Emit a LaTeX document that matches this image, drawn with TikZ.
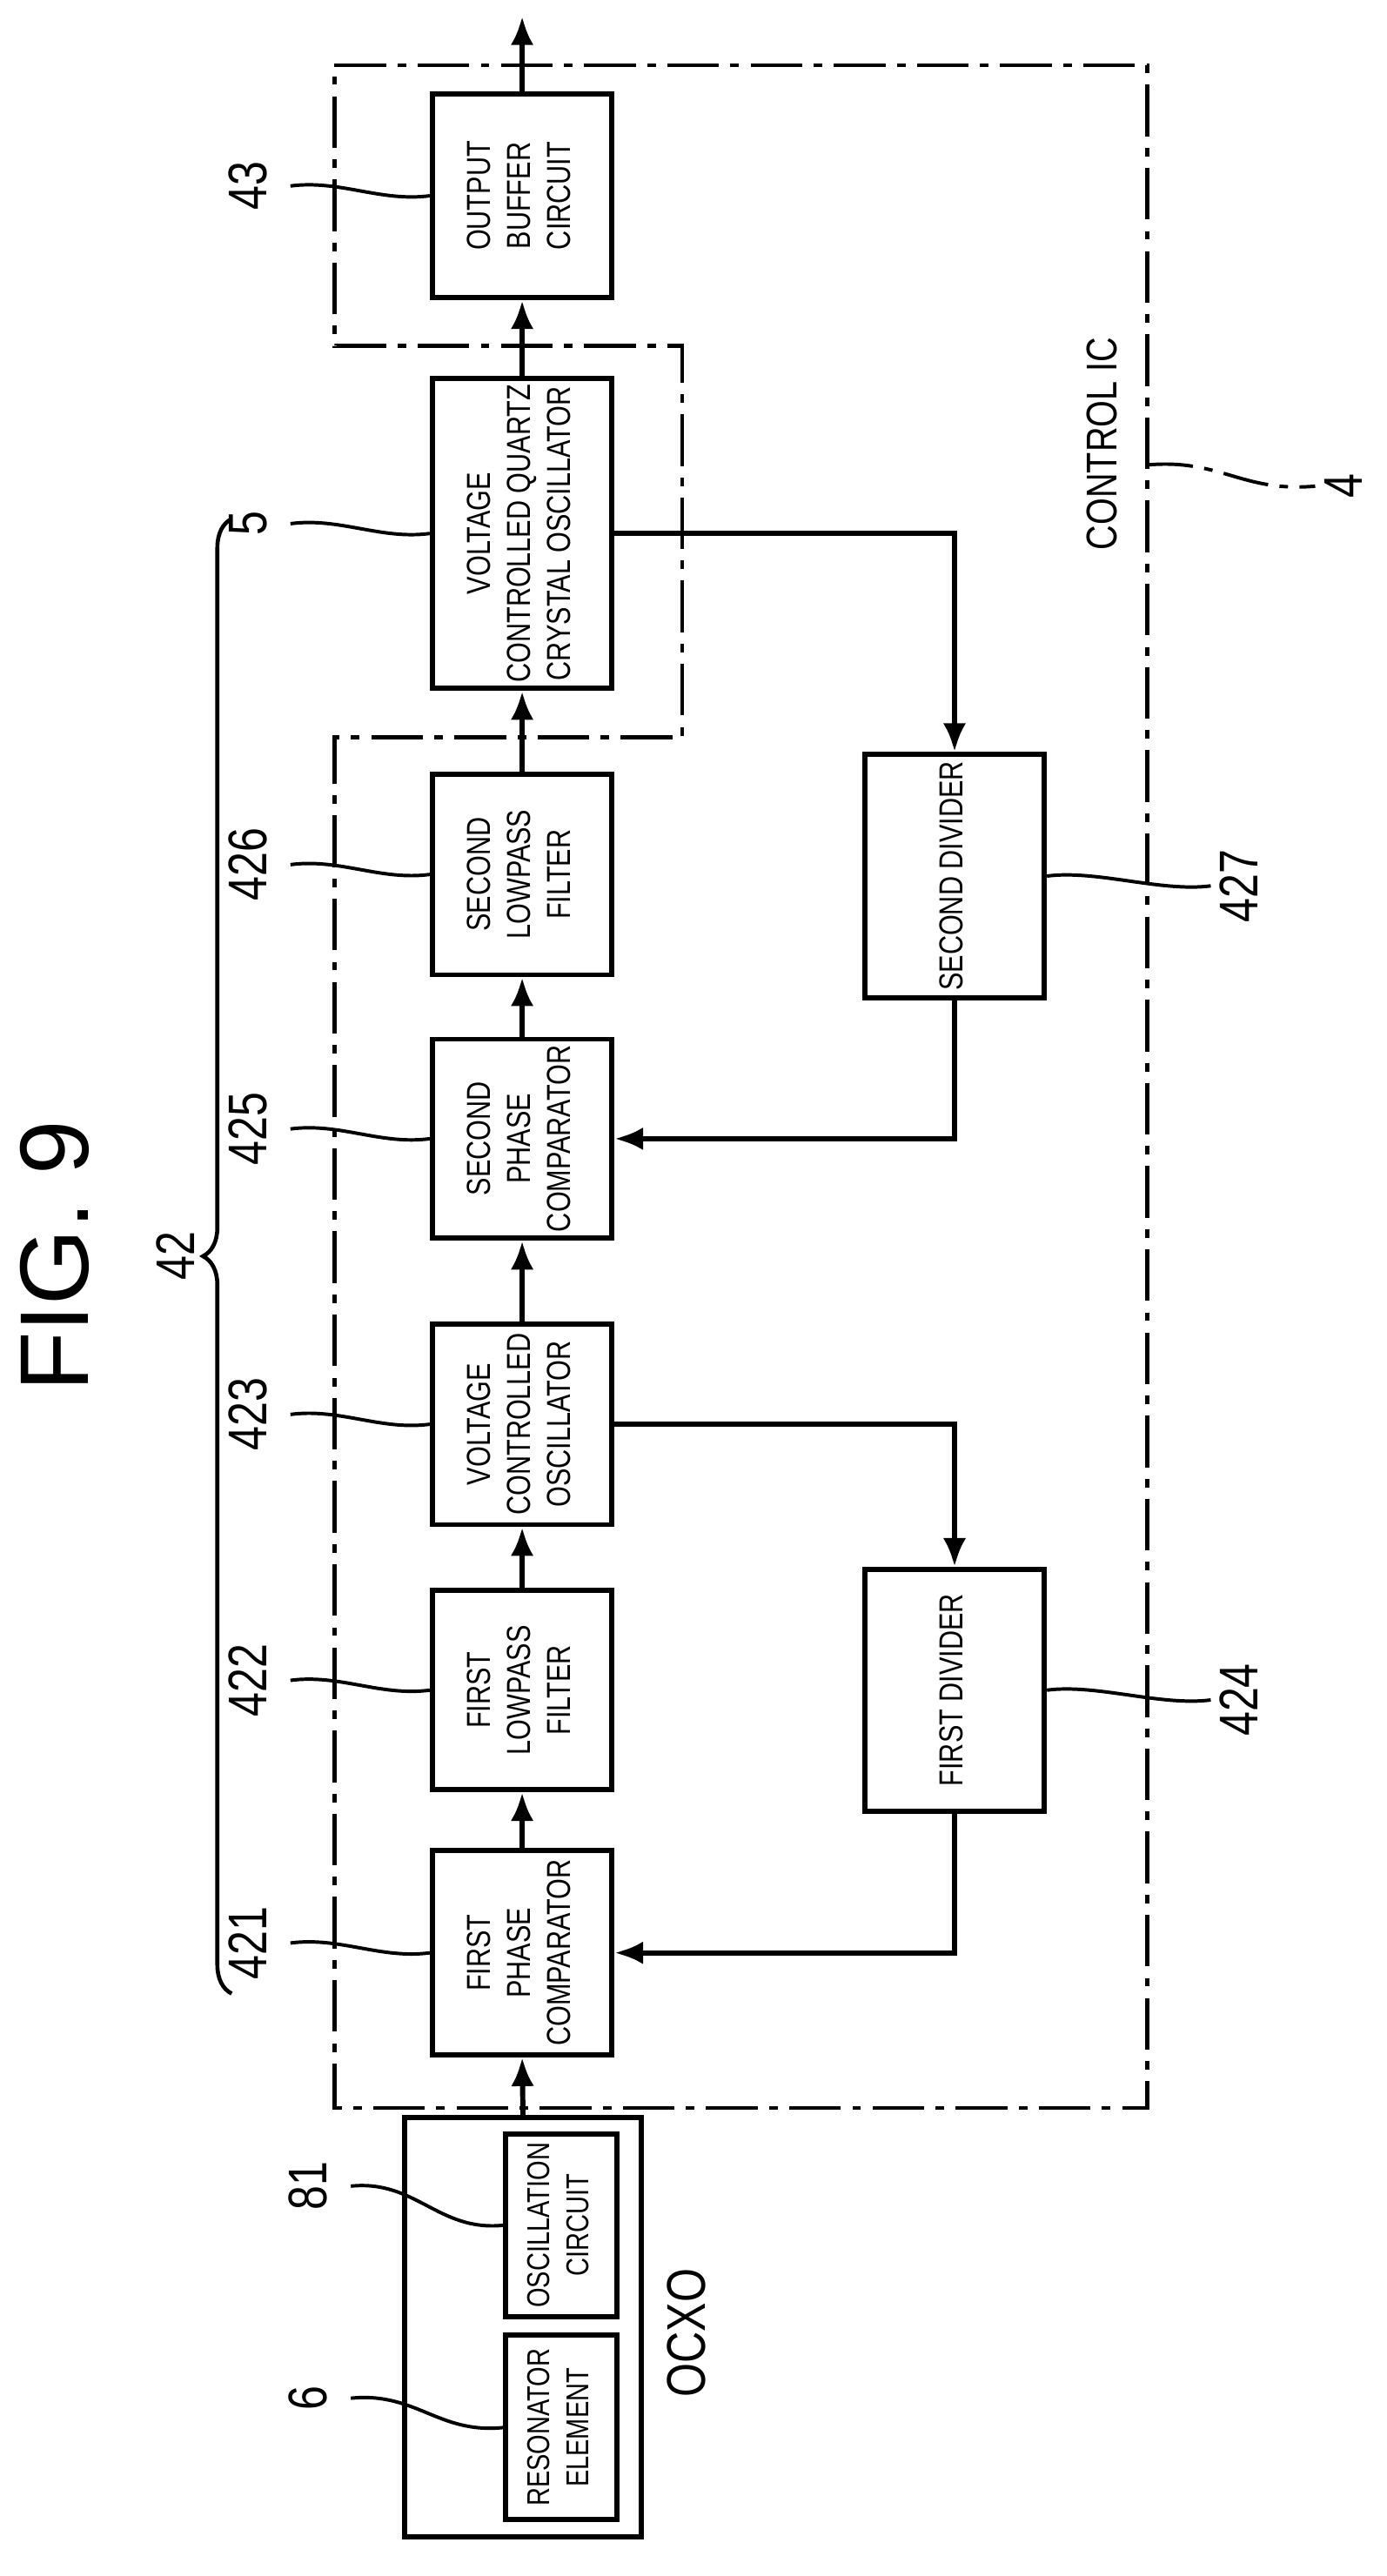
\documentclass[tikz,border=0pt]{standalone}
\usepackage{fontspec}
\setmainfont{Liberation Sans}
\newfontfamily\cond[FakeStretch=0.8]{Liberation Sans}
\usetikzlibrary{arrows.meta,positioning,calc,decorations.pathreplacing}
\newcommand{\vt}[1]{\rotatebox{90}{\begin{tabular}{@{}c@{}}#1\end{tabular}}}
\tikzset{
  blk/.style={draw,line width=0.9pt,minimum width=1.1cm,inner sep=0pt,font=\cond\fontsize{5.8}{7}\selectfont},
  num/.style={inner sep=1pt,font=\cond\fontsize{9.5}{10}\selectfont},
  sig/.style={line width=0.9pt,-{Latex[length=5pt,width=4pt]}},
  lead/.style={line width=0.6pt},
  dd/.style={line width=0.7pt,dash pattern=on 9pt off 2pt on 1.5pt off 2pt}
}
\begin{document}
\begin{tikzpicture}[x=0.01cm,y=-0.01cm]
\useasboundingbox (0,0) rectangle (850,1579);
% blocks of the chain
\node[blk,minimum height=1.25cm] (b43)  at (320,120)  {\vt{OUTPUT\\BUFFER\\CIRCUIT}};
\node[blk,minimum height=1.9cm]  (b5)   at (320,327)  {\vt{VOLTAGE\\CONTROLLED QUARTZ\\CRYSTAL OSCILLATOR}};
\node[blk,minimum height=1.23cm] (b426) at (320,536)  {\vt{SECOND\\LOWPASS\\FILTER}};
\node[blk,minimum height=1.22cm] (b425) at (320,698)  {\vt{SECOND\\PHASE\\COMPARATOR}};
\node[blk,minimum height=1.23cm] (b423) at (320,873)  {\vt{VOLTAGE\\CONTROLLED\\OSCILLATOR}};
\node[blk,minimum height=1.22cm] (b422) at (320,1036) {\vt{FIRST\\LOWPASS\\FILTER}};
\node[blk,minimum height=1.25cm] (b421) at (320,1197) {\vt{FIRST\\PHASE\\COMPARATOR}};
\node[blk,minimum height=1.49cm] (b427) at (585,537)  {\vt{SECOND DIVIDER}};
\node[blk,minimum height=1.48cm] (b424) at (585,1036) {\vt{FIRST DIVIDER}};
% OCXO
\node[draw,line width=0.9pt,minimum width=1.45cm,minimum height=2.57cm] (ocxo) at (320.5,1426.5) {};
\node[blk,minimum width=0.68cm,minimum height=1.12cm,font=\cond\fontsize{5.5}{6.8}\selectfont] (b81) at (344,1364) {\vt{OSCILLATION\\CIRCUIT}};
\node[blk,minimum width=0.68cm,minimum height=1.13cm,font=\cond\fontsize{5.5}{6.8}\selectfont] (b6)  at (344,1488) {\vt{RESONATOR\\ELEMENT}};
\node[num] (tocxo) at (425,1430) {\vt{OCXO}};
% control IC outline
\draw[dd] (205,40) -- (703,40) -- (703,1292) -- (205,1292) -- (205,452) -- (418,452) -- (418,212) -- (205,212) -- cycle;
\node[num,font=\cond\fontsize{7.5}{9}\selectfont] (tic) at (678,272) {\vt{CONTROL IC}};
% signal path
\coordinate (out) at (320,10);
\draw[sig] (ocxo.north) -- (b421.south);
\draw[sig] (b421) -- (b422);
\draw[sig] (b422) -- (b423);
\draw[sig] (b423) -- (b425);
\draw[sig] (b425) -- (b426);
\draw[sig] (b426) -- (b5);
\draw[sig] (b5) -- (b43);
\draw[sig] (b43) -- (out);
\draw[sig] (b5.east) -| (b427.north);
\draw[sig] (b427.south) |- (b425.east);
\draw[sig] (b423.east) -| (b424.north);
\draw[sig] (b424.south) |- (b421.east);
% reference numbers
\foreach \n/\y in {43/120,5/327,426/536,425/698,423/873,422/1036,421/1197}{
  \node[num,anchor=east] (l\n) at (178,\y-6) {\vt{\n}};
  \draw[lead] (l\n.east) .. controls +(30,-4) and +(-30,4) .. (b\n.west);
}
\foreach \n/\y in {427/537,424/1036}{
  \node[num,anchor=west] (l\n) at (742,\y+6) {\vt{\n}};
  \draw[lead] (b\n.east) .. controls +(30,-4) and +(-30,4) .. (l\n.west);
}
\node[num,anchor=east] (l81) at (215,1340) {\vt{81}};
\draw[lead] (l81.east) .. controls +(40,-4) and +(-40,4) .. (b81.west);
\node[num,anchor=east] (l6) at (215,1470) {\vt{6}};
\draw[lead] (l6.east) .. controls +(40,-4) and +(-40,4) .. (b6.west);
\node[num,anchor=west] (l4) at (806,298) {\vt{4}};
\draw[lead,dash pattern=on 8pt off 2pt on 1.5pt off 2pt] (703,285) .. controls +(45,-4) and +(-45,4) .. (l4.west);
% brace 42
\draw[line width=0.7pt,decorate,decoration={brace,amplitude=5pt}] (142,1222) -- (142,318);
\node[num] (l42) at (112,770) {\vt{42}};
\node[font=\fontsize{17}{20}\selectfont] (fig) at (40,770) {\vt{FIG. 9}};
\end{tikzpicture}
\end{document}
